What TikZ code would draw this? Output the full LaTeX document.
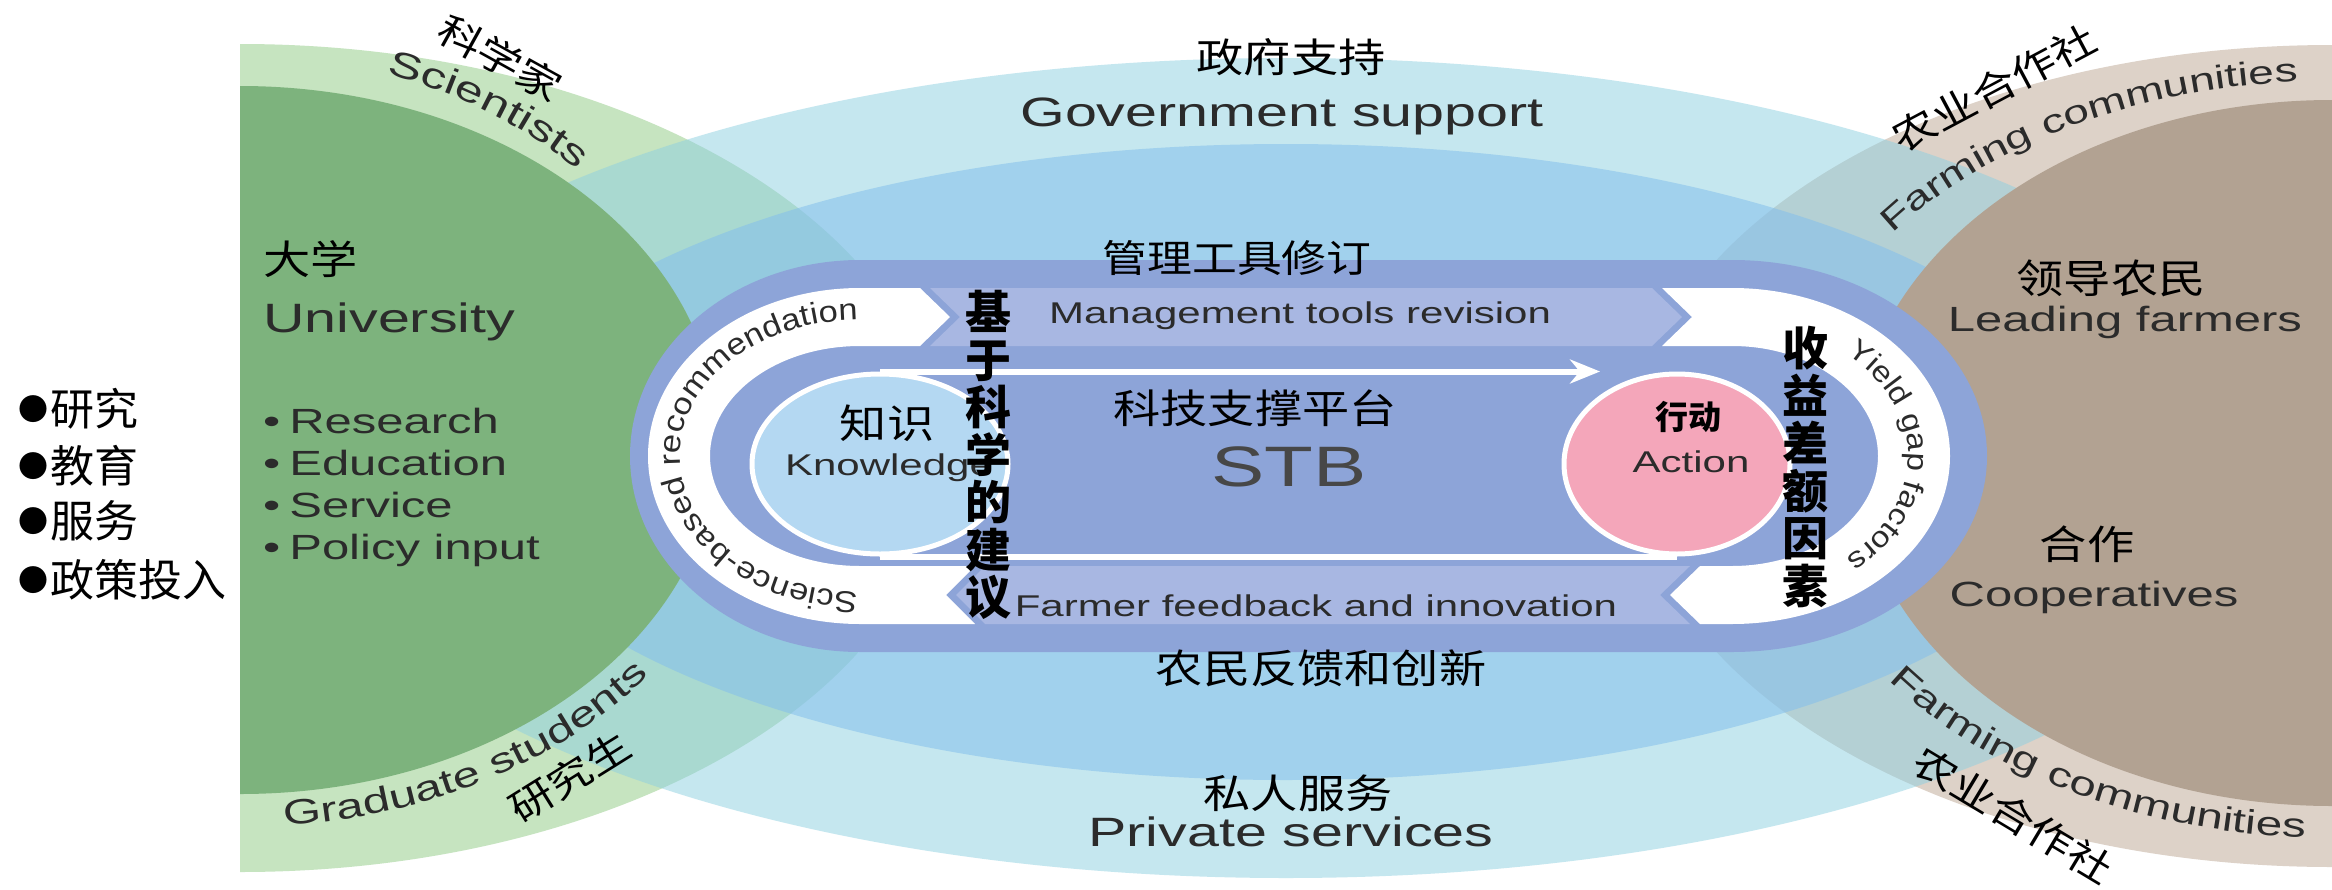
\documentclass[tikz,border=0pt]{standalone}
\usepackage{fontspec}
\setmainfont{Liberation Sans}[FakeStretch=1.4]
\newfontfamily\arcfont{Liberation Sans}[FakeStretch=1.15]
\newfontfamily\cjkw{Noto Sans CJK SC}[FakeStretch=1.18]
\newfontfamily\cjk{Noto Sans CJK SC}
\usetikzlibrary{shapes.geometric,decorations.text,arrows.meta,calc}

\definecolor{lgreen}{HTML}{C6E4C0}
\definecolor{dgreen}{HTML}{7DB37D}
\definecolor{lbrown}{HTML}{DDD2C8}
\definecolor{dbrown}{HTML}{B2A292}
\definecolor{skyA}{HTML}{8DD0E1}
\definecolor{skyB}{HTML}{84BFEC}
\definecolor{peri}{HTML}{8DA4D8}
\definecolor{periL}{HTML}{A8B7E2}
\definecolor{knfill}{HTML}{B4D8F2}
\definecolor{actfill}{HTML}{F4A6BA}
\definecolor{txt}{HTML}{2B2B2B}

\newcommand\enf[1]{\fontsize{#1}{#1}\selectfont}
\newcommand\cnf[1]{\cjkw\fontsize{#1}{#1}\selectfont}
\newcommand\cnb[1]{\cjk\bfseries\fontsize{#1}{#1}\selectfont}
\newcommand\vertfont{\cjk\bfseries\fontsize{46}{47.5}\selectfont}
\newcommand\dotfont{\cjk\fontsize{44}{44}\selectfont}
\newcommand\bdot{\raisebox{5pt}{\fontsize{30}{30}\selectfont ●}\hspace{2pt}}

\begin{document}
\begin{tikzpicture}[x=1pt,y=-1pt,
  en/.style={inner sep=0pt,text=txt},
  zh/.style={inner sep=0pt,text=black},
  vert/.style={inner sep=0pt,text=black,align=center,font=\vertfont},
  flowline/.style={white,line width=6pt},
  bubble/.style={ellipse,draw=white,line width=5pt,inner sep=0pt,minimum height=180pt}
]
\useasboundingbox (0,0) rectangle (2332,889);
\fill[white] (0,0) rectangle (2332,889);

% outer light bands of the two half discs
\fill[lgreen] (240,44) arc[start angle=-90,end angle=90,x radius=700,y radius=414] -- cycle;
\fill[lbrown] (2332,45) arc[start angle=270,end angle=90,x radius=700,y radius=411] -- cycle;

% government support / private services ellipses
\fill[skyA,fill opacity=0.5] (1286,468) ellipse[x radius=1000,y radius=410];
\fill[skyB,fill opacity=0.55] (1286,462) ellipse[x radius=810,y radius=318];

% university and farmer cores
\fill[dgreen] (240,86) arc[start angle=-90,end angle=90,x radius=478,y radius=354] -- cycle;
\fill[dbrown] (2332,100) arc[start angle=270,end angle=90,x radius=478,y radius=353] -- cycle;

% STB loop
\fill[peri] (860,260) -- (1732,260)
  arc[start angle=-90,end angle=90,x radius=255,y radius=196]
  -- (860,652)
  arc[start angle=90,end angle=270,x radius=230,y radius=196] -- cycle;
\fill[periL] (930,288) -- (1652,288) -- (1682,317) -- (1652,346) -- (930,346) -- (960,317) -- cycle;
\fill[periL] (985,566) -- (1690,566) -- (1660,595) -- (1690,624) -- (985,624) -- (956,595) -- cycle;
\fill[white] (860,288) -- (920,288) -- (950,317) -- (920,346) -- (860,346)
  arc[start angle=-90,end angle=-270,x radius=150,y radius=110]
  -- (975,566) -- (946,595) -- (975,624) -- (860,624)
  arc[start angle=90,end angle=270,x radius=212,y radius=168] -- cycle;
\fill[white] (1662,288) -- (1732,288)
  arc[start angle=-90,end angle=90,x radius=218,y radius=168]
  -- (1700,624) -- (1670,595) -- (1700,566) -- (1732,566)
  arc[start angle=90,end angle=-90,x radius=146,y radius=110]
  -- (1662,346) -- (1692,317) -- cycle;

\node[bubble,fill=knfill,minimum width=256pt] (kn) at (880,464) {};
\node[bubble,fill=actfill,minimum width=226pt] (act) at (1677,464) {};
\coordinate (tip) at (1600,375);
\draw[flowline,-{Stealth[length=30pt,width=24pt]}] (kn.north) -- (kn.north -| tip);
\draw[flowline] (kn.south) -- (act.south);

% curved labels
\path[decorate,decoration={text along path,text align={align=center},text color=txt,
  text={|\arcfont\enf{30}|Science-based recommendation}}]
  ($(860,456)+(50:180 and 136)$) arc[start angle=50,end angle=310,x radius=180,y radius=136];
\path[decorate,decoration={text along path,text align={align=center},text color=txt,
  text={|\arcfont\enf{29}|Yield gap factors}}]
  ($(1732,456)+(-75:176 and 134)$) arc[start angle=-75,end angle=75,x radius=176,y radius=134];
\path[decorate,decoration={text along path,text align={align=center},text color=txt,
  text={|\enf{36}|Scientists}}]
  ($(240,450)+(-97:479 and 395)$) arc[start angle=-97,end angle=-17,x radius=479,y radius=395];
\path[decorate,decoration={text along path,text align={align=center},text color=txt,
  text={|\enf{35}|Graduate students}}]
  ($(240,450)+(100:510 and 377)$) arc[start angle=100,end angle=18,x radius=510,y radius=377];
\path[decorate,decoration={text along path,text align={align=center},text color=txt,
  text={|\enf{33}|Farming communities}}]
  ($(2332,450)+(198:542 and 369)$) arc[start angle=198,end angle=280,x radius=542,y radius=369];
\path[decorate,decoration={text along path,text align={align=center},text color=txt,
  text={|\enf{34}|Farming communities}}]
  ($(2332,450)+(160:550 and 388)$) arc[start angle=160,end angle=80,x radius=550,y radius=388];

% rotated Chinese labels on the outer bands
\node[zh,font=\cnf{38},rotate=-29] (scicn) at (500,58) {科学家};
\node[zh,font=\cnf{38},rotate=32] (gradcn) at (570,777) {研究生};
\node[zh,font=\cnf{38},rotate=28] (farmcnA) at (1994,88) {农业合作社};
\node[zh,font=\cnf{38},rotate=-31] (farmcnB) at (2013,815) {农业合作社};

% university side
\node[zh,font=\cnf{40},anchor=west] (unicn) at (263,259) {大学};
\node[en,font=\enf{41},anchor=west] (unien) at (263,322) {University};
\node[en,font=\enf{35},anchor=base west] (u1) at (263,433) {\textbullet\hspace{9pt}Research};
\node[en,font=\enf{35},anchor=base west] (u2) at (263,475) {\textbullet\hspace{9pt}Education};
\node[en,font=\enf{35},anchor=base west] (u3) at (263,517) {\textbullet\hspace{9pt}Service};
\node[en,font=\enf{35},anchor=base west] (u4) at (263,559) {\textbullet\hspace{9pt}Policy input};

\node[zh,font=\dotfont,anchor=west] (o1) at (18,409) {\bdot 研究};
\node[zh,font=\dotfont,anchor=west] (o2) at (18,466) {\bdot 教育};
\node[zh,font=\dotfont,anchor=west] (o3) at (18,521) {\bdot 服务};
\node[zh,font=\dotfont,anchor=west] (o4) at (18,580) {\bdot 政策投入};

% middle labels
\node[zh,font=\cnf{40}] (govcn) at (1291,57) {政府支持};
\node[en,font=\enf{41}] (goven) at (1282,116) {Government support};
\node[zh,font=\cnf{40}] (privcn) at (1298,793) {私人服务};
\node[en,font=\enf{41}] (priven) at (1291,832) {Private services};
\node[zh,font=\cnf{38}] (mgmtcn) at (1237,258) {管理工具修订};
\node[en,font=\enf{30}] (mgmten) at (1300,316) {Management tools revision};
\node[en,font=\enf{30}] (fben) at (1316,606) {Farmer feedback and innovation};
\node[zh,font=\cnf{40}] (fbcn) at (1321,668) {农民反馈和创新};
\node[zh,font=\cnf{40}] (stbcn) at (1255,408) {科技支撑平台};
\node[en,font=\enf{57},text=black!72] (stben) at (1289,467) {STB};
\node[zh,font=\cnf{40}] (kncn) at (887,423) {知识};
\node[en,font=\enf{30}] (knen) at (889,468) {Knowledge};
\node[zh,font=\cnb{33}] (actcn) at (1688,417) {行动};
\node[en,font=\enf{30}] (acten) at (1691,462) {Action};

\node[vert] (kb) at (988,455) {基\\于\\科\\学\\的\\建\\议};
\node[vert] (yg) at (1805,467) {收\\益\\差\\额\\因\\素};

% farmer side
\node[zh,font=\cnf{40}] (leadcn) at (2111,278) {领导农民};
\node[en,font=\enf{35}] (leaden) at (2125,322) {Leading farmers};
\node[zh,font=\cnf{40}] (coopcn) at (2087,544) {合作};
\node[en,font=\enf{35}] (coopen) at (2094,597) {Cooperatives};
\end{tikzpicture}
\end{document}
